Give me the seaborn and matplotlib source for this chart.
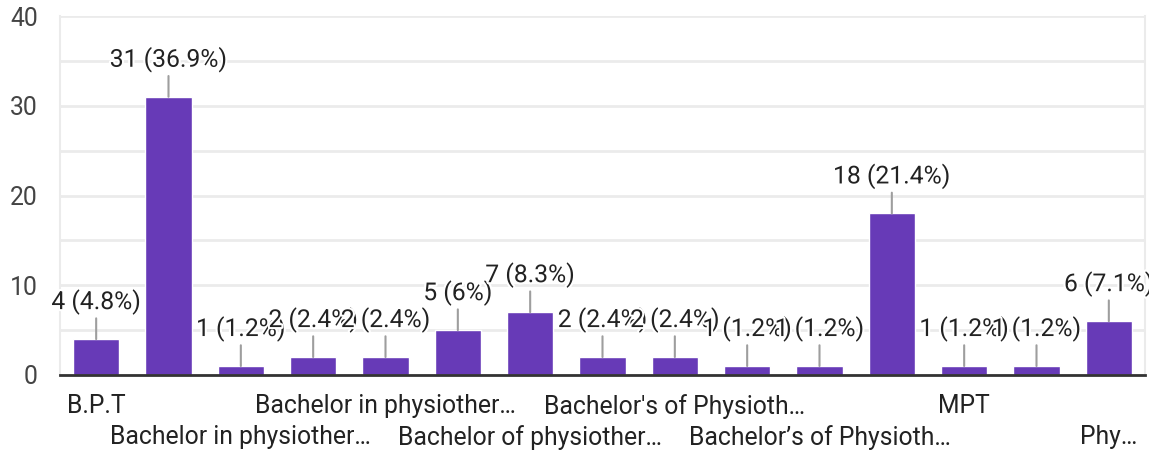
import matplotlib
matplotlib.use("Agg")
import matplotlib.pyplot as plt
import matplotlib.patheffects as pe
import seaborn as sns
import pandas as pd

# values (84 answers in total)
counts = [4, 31, 1, 2, 2, 5, 7, 2, 2, 1, 1, 18, 1, 1, 6]
percents = [4.8, 36.9, 1.2, 2.4, 2.4, 6, 8.3, 2.4, 2.4, 1.2, 1.2, 21.4, 1.2, 1.2, 7.1]
# only every other category label is shown on the chart
tick_labels = ["B.P.T", "", "Bachelor in physiother…", "", "Bachelor in physiother…", "",
               "Bachelor of physiother…", "", "Bachelor's of Physioth…", "",
               "Bachelor’s of Physioth…", "", "MPT", "", "Phy…"]

df = pd.DataFrame({"pos": list(range(len(counts))), "count": counts})

sns.set_theme(style="white")
plt.rcParams["font.family"] = ["Roboto", "DejaVu Sans"]

fs = 17.8

fig = plt.figure(figsize=(11.49, 4.5), dpi=100)
ax = fig.add_axes([60 / 1149, 75 / 450, 1085 / 1149, 359 / 450])

sns.barplot(data=df, x="pos", y="count", color="#673ab7", saturation=1,
            width=0.64, ax=ax, zorder=3)

ax.set_xlim(-0.5, len(counts) - 0.5)
ax.set_ylim(0, 40)
ax.set_yticks([0, 10, 20, 30, 40])
ax.set_yticks([5, 15, 25, 35], minor=True)
ax.grid(axis="y", which="both", color="#ebebeb", lw=2, zorder=0)
ax.tick_params(axis="y", which="both", length=0, pad=16, labelsize=fs, labelcolor="#444444")

ax.set_xticks(range(len(counts)))
ax.set_xticklabels(tick_labels)
ax.tick_params(axis="x", length=0, pad=14, labelsize=fs, labelcolor="#222222")
# alternate the labels on two rows
for i, tick in enumerate(ax.xaxis.get_major_ticks()):
    if (i // 2) % 2 == 1:
        tick.set_pad(36)
ax.set_xlabel("")
ax.set_ylabel("")

for s in ["left", "right", "top"]:
    ax.spines[s].set_color("#ebebeb")
    ax.spines[s].set_linewidth(1.5)
ax.spines["top"].set_visible(False)
ax.spines["bottom"].set_color("#333333")
ax.spines["bottom"].set_linewidth(2)
ax.spines["bottom"].set_zorder(5)

for i, (c, p) in enumerate(zip(counts, percents)):
    ann = ax.annotate(f"{c} ({p:g}%)", xy=(i, c), xytext=(0, 17.3),
                      textcoords="offset points", ha="center", va="bottom",
                      fontsize=fs, color="#222222", annotation_clip=False,
                      arrowprops=dict(arrowstyle="-", color="#9e9e9e", lw=1.5,
                                      shrinkA=0, shrinkB=0, relpos=(0.5, 0)),
                      path_effects=[pe.withStroke(linewidth=3, foreground="white")],
                      zorder=6)
    ann.set_clip_on(True)

fig.savefig("out.png", dpi=100)
